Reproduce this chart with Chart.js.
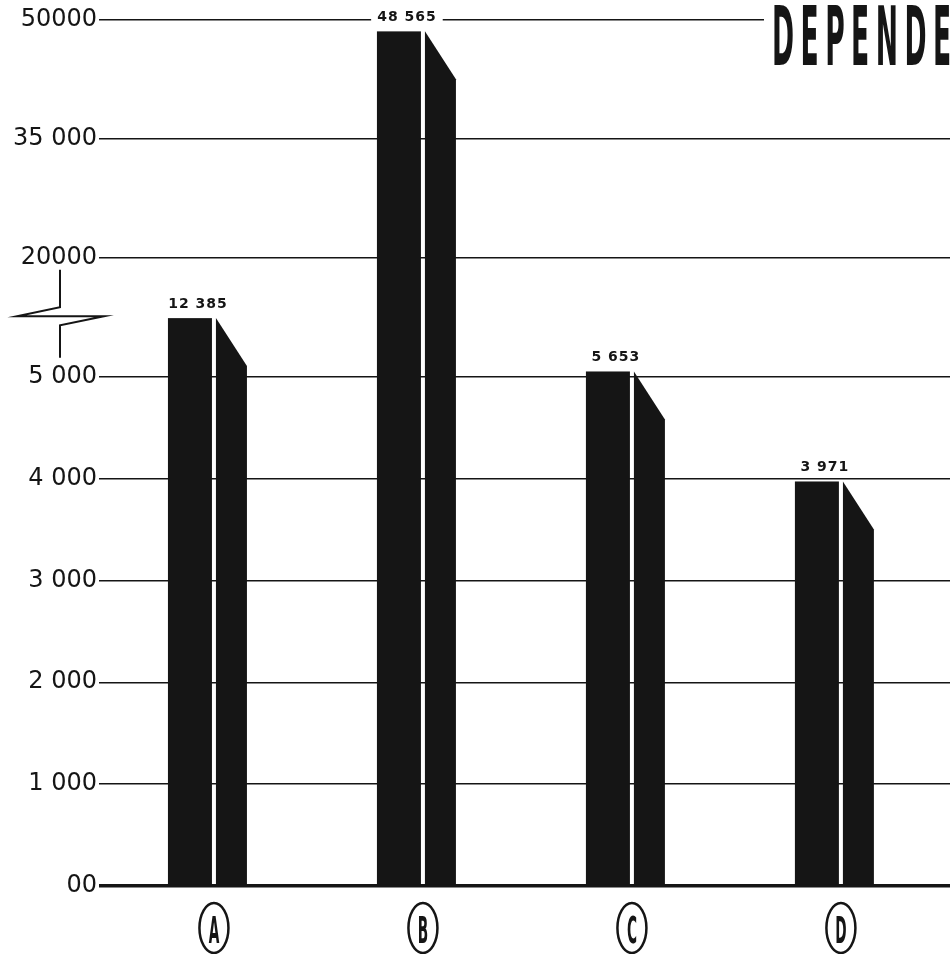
<!DOCTYPE html>
<html>
<head>
<meta charset="utf-8">
<script src="https://cdn.jsdelivr.net/npm/chart.js@4.4.1/dist/chart.umd.min.js"></script>
<style>
  html, body { margin: 0; padding: 0; background: #fff; }
  #wrap { width: 950px; height: 954px; position: relative; }
</style>
</head>
<body>
<div id="wrap"><canvas id="chart"></canvas></div>
<script>
const categories = ["A", "B", "C", "D"];
const values = [12385, 48565, 5653, 3971];
const tickValues = [0, 1000, 2000, 3000, 4000, 5000, 20000, 35000, 50000];
const tickLabels = ["00", "1 000", "2 000", "3 000", "4 000", "5 000", "20000", "35 000", "50000"];
const titleText = "DEPENDEN";

// axis is broken at 5 000: below it one step = 1 000, above it one step = 15 000 (a bit taller)
const breakAt = 5000;
const upperStep = 15000 / 1.167;
function toUnit(v) {
  return v <= breakAt ? v / 1000 : breakAt / 1000 + (v - breakAt) / upperStep;
}
function fromUnit(u) {
  return u <= breakAt / 1000 ? u * 1000 : breakAt + (u - breakAt / 1000) * upperStep;
}

class BrokenScale extends Chart.LinearScale {
  determineDataLimits() {
    this.min = 0;
    this.max = 50000;
  }
  buildTicks() {
    return tickValues.map((v) => ({ value: v }));
  }
  getPixelForValue(v) {
    return this.getPixelForDecimal(toUnit(v) / toUnit(this.max));
  }
  getValueForPixel(p) {
    return fromUnit(this.getDecimalForPixel(p) * toUnit(this.max));
  }
}
BrokenScale.id = "broken";
BrokenScale.defaults = Chart.LinearScale.defaults;
Chart.register(BrokenScale);

const ink = "#151515";

function fmt(v) {
  return String(v).replace(/\B(?=(\d{3})+(?!\d))/g, " ");
}

const sketchPlugin = {
  id: "sketch",
  beforeDraw(chart) {
    const ctx = chart.ctx;
    ctx.save();
    ctx.fillStyle = "#fff";
    ctx.fillRect(0, 0, chart.width, chart.height);
    ctx.restore();
  },
  afterDatasetsDraw(chart) {
    const ctx = chart.ctx;
    const y = chart.scales.y;
    const meta = chart.getDatasetMeta(0);
    ctx.save();

    // bars with a slanted side face
    meta.data.forEach((el, i) => {
      const { x, y: top, base } = el.getProps(["x", "y", "base"], true);
      ctx.fillStyle = ink;
      ctx.fillRect(x - 46, top, 44, base - top);
      ctx.beginPath();
      ctx.moveTo(x + 2, top);
      ctx.lineTo(x + 33, top + 48);
      ctx.lineTo(x + 33, base);
      ctx.lineTo(x + 2, base);
      ctx.closePath();
      ctx.fill();

      // value label
      const txt = fmt(values[i]);
      ctx.font = 'bold 14px "DejaVu Sans"';
      ctx.letterSpacing = "1px";
      ctx.textAlign = "center";
      ctx.textBaseline = "alphabetic";
      const w = ctx.measureText(txt).width;
      ctx.fillStyle = "#fff";
      ctx.fillRect(x - 16 - w / 2 - 6, top - 25, w + 12, 17);
      ctx.fillStyle = ink;
      ctx.fillText(txt, x - 16, top - 10);
      ctx.letterSpacing = "0px";

      // circled category letter
      ctx.lineWidth = 2.5;
      ctx.strokeStyle = ink;
      ctx.beginPath();
      ctx.ellipse(x, 928, 14.5, 25, 0, 0, Math.PI * 2);
      ctx.stroke();
      ctx.save();
      ctx.translate(x, 943);
      ctx.scale(0.4, 1);
      ctx.font = 'bold 38px "DejaVu Sans Condensed"';
      ctx.textAlign = "center";
      ctx.fillText(categories[i], 0, 0);
      ctx.restore();
    });

    // axis break mark
    const p20 = y.getPixelForValue(20000);
    const p5 = y.getPixelForValue(5000);
    const mid = (p20 + p5) / 2 - 1;
    ctx.strokeStyle = ink;
    ctx.lineWidth = 2;
    ctx.beginPath();
    ctx.moveTo(60, p20 + 12);
    ctx.lineTo(60, mid - 9);
    ctx.lineTo(17, mid);
    ctx.lineTo(104, mid);
    ctx.lineTo(60, mid + 9);
    ctx.lineTo(60, p5 - 19);
    ctx.stroke();

    // title, cut at the right edge
    ctx.fillStyle = "#fff";
    ctx.fillRect(764, 0, 186, 72);
    ctx.save();
    ctx.translate(772, 65);
    ctx.scale(0.36, 1);
    ctx.fillStyle = ink;
    ctx.font = 'bold 82px "DejaVu Sans Condensed"';
    ctx.textAlign = "left";
    ctx.textBaseline = "alphabetic";
    ctx.letterSpacing = "18px";
    ctx.fillText(titleText, 0, 0);
    ctx.restore();

    ctx.restore();
  },
};

new Chart(document.getElementById("chart"), {
  type: "bar",
  data: {
    datasets: [
      {
        data: categories.map((c, i) => ({ x: i, y: values[i] })),
        backgroundColor: "rgba(0,0,0,0)",
        barThickness: 80,
      },
    ],
  },
  options: {
    responsive: true,
    maintainAspectRatio: false,
    animation: false,
    layout: { padding: { top: 20, right: 0, bottom: 68, left: 0 } },
    plugins: {
      legend: { display: false },
      tooltip: { enabled: false },
    },
    scales: {
      x: {
        type: "linear",
        min: -0.55,
        max: 3.522,
        offset: false,
        display: false,
      },
      y: {
        type: "broken",
        border: { display: false },
        grid: {
          color: ink,
          lineWidth: (c) => (c.tick && c.tick.value === 0 ? 3.5 : 1.5),
          drawTicks: false,
        },
        ticks: {
          padding: 2,
          color: ink,
          font: { family: "DejaVu Sans", size: 24 },
          callback: (v, i) => tickLabels[i],
        },
        afterFit: (scale) => {
          scale.width = 99;
        },
      },
    },
  },
  plugins: [sketchPlugin],
});
</script>
</body>
</html>
